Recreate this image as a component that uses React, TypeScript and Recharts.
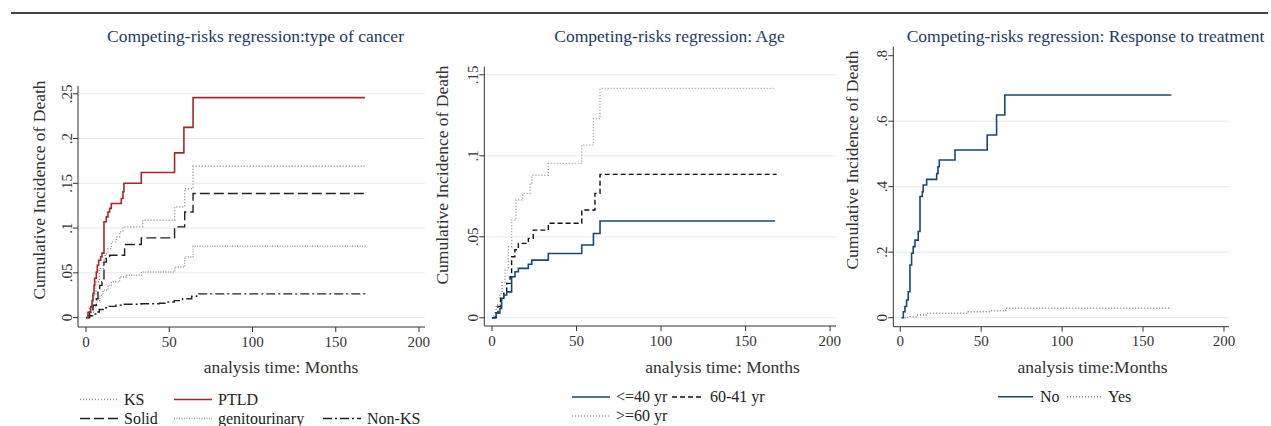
import React from "react";
import {
  LineChart,
  Line,
  XAxis,
  YAxis,
  CartesianGrid,
} from "recharts";

// panel 1: type of cancer
const ksTime = [0, 2, 4, 6, 8, 10.4, 11.6, 13.2, 15.2, 18.2, 20.2, 22.2, 34, 53.3, 59.3, 64.3, 168];
const ksCif = [0, 0.01, 0.025, 0.04, 0.055, 0.064, 0.0716, 0.077, 0.0846, 0.09, 0.0958, 0.1013, 0.1088, 0.1237, 0.144, 0.169, 0.169];
const ptldTime = [0, 1.2, 2.8, 3.6, 4.2, 4.8, 5.2, 6.2, 6.8, 7.6, 8.8, 9.6, 10.8, 12.2, 13.2, 14.2, 15.2, 21.2, 22.2, 22.8, 33.2, 53.2, 58.8, 64.3, 167.5];
const ptldCif = [0, 0.006, 0.012, 0.019, 0.027, 0.036, 0.044, 0.051, 0.0585, 0.064, 0.068, 0.072, 0.107, 0.1125, 0.118, 0.122, 0.1275, 0.133, 0.1405, 0.15, 0.162, 0.184, 0.2125, 0.2457, 0.2457];
const solidTime = [0, 2.2, 4.2, 6.2, 7.2, 8.2, 9.6, 10.8, 12.2, 14.2, 23.2, 33.2, 53.2, 59.3, 64.3, 168];
const solidCif = [0, 0.006, 0.0138, 0.021, 0.0324, 0.036, 0.04, 0.062, 0.066, 0.0697, 0.0817, 0.089, 0.1013, 0.118, 0.1387, 0.1387];
const gentTime = [0, 2, 4.4, 6.5, 8.4, 10.2, 13.2, 15.2, 20.2, 24.2, 33.3, 53.3, 59.3, 64.3, 168];
const gentCif = [0, 0.006, 0.012, 0.019, 0.025, 0.0305, 0.036, 0.04, 0.0454, 0.0473, 0.051, 0.0566, 0.0678, 0.0797, 0.0797];
const nonKsTime = [0, 2, 4, 6.4, 8, 10.4, 14, 18, 22.4, 33, 44, 48.5, 53, 58, 63.5, 66.5, 168];
const nonKsCif = [0, 0.002, 0.004, 0.0063, 0.009, 0.011, 0.0125, 0.0138, 0.0149, 0.0155, 0.016, 0.0175, 0.019, 0.021, 0.0238, 0.0265, 0.0265];

// panel 2: age
const age40Time = [0, 2.5, 4.7, 5.7, 7, 8.7, 11.6, 13.6, 15.6, 21.5, 23.5, 33.3, 53.1, 60, 63.9, 167.5];
const age40Cif = [0, 0.003, 0.0058, 0.012, 0.014, 0.016, 0.0253, 0.0284, 0.0305, 0.033, 0.0356, 0.0397, 0.0449, 0.052, 0.0597, 0.0597];
const age4160Time = [0, 2, 3.5, 5.1, 7, 8.7, 10.7, 11.6, 13.5, 15.6, 21.5, 24.4, 33.3, 53.1, 60.9, 63.9, 168.4];
const age4160Cif = [0, 0.003, 0.007, 0.012, 0.016, 0.0212, 0.0253, 0.0377, 0.042, 0.0459, 0.049, 0.0541, 0.0583, 0.0665, 0.0768, 0.0885, 0.0885];
const age60Time = [0, 0.8, 2.5, 4.7, 6, 7.7, 9.7, 11.6, 14.2, 18.2, 22.5, 23.5, 33.3, 53.1, 60, 63.9, 166.5];
const age60Cif = [0, 0.001, 0.008, 0.015, 0.022, 0.0294, 0.0438, 0.0603, 0.0727, 0.0768, 0.083, 0.088, 0.0953, 0.1066, 0.123, 0.1416, 0.1416];

// panel 3: response to treatment
const noTime = [0.85, 1.9, 2.9, 3.9, 4.9, 6, 7, 8, 9.1, 11.1, 12.2, 13.6, 14.2, 16.3, 22.5, 23.3, 24.1, 33.8, 53.7, 59.5, 64.6, 167.5];
const noCif = [0, 0.018, 0.034, 0.054, 0.079, 0.161, 0.197, 0.217, 0.237, 0.263, 0.37, 0.385, 0.405, 0.4225, 0.44, 0.461, 0.4815, 0.512, 0.558, 0.619, 0.68, 0.68];
const yesTime = [0.85, 4, 6, 10, 16, 42, 55, 65.2, 167.5];
const yesCif = [0, 0.001, 0.003, 0.008, 0.0135, 0.018, 0.021, 0.0287, 0.0287];

const xTicks = [0, 50, 100, 150, 200];
const cancerTicks = [0, 0.05, 0.1, 0.15, 0.2, 0.25];
const ageTicks = [0, 0.05, 0.1, 0.15];
const responseTicks = [0, 0.2, 0.4, 0.6, 0.8];

const FONT = "'Liberation Serif', serif";
const NAVY = "#1a476f";
const RED = "#a3282e";
const GRID = "#e2ecf0";
const AXIS = "#333";

const toPoints = (t: number[], v: number[]) => t.map((x, i) => ({ t: x, v: v[i] }));

const fmt = (v: number) => (v === 0 ? "0" : String(v).replace(/^0\./, "."));

const YTick = (props: any) => {
  const { x, y, payload } = props;
  const cx = x - 4;
  return (
    <text
      x={cx}
      y={y}
      transform={`rotate(-90 ${cx} ${y})`}
      textAnchor="middle"
      dominantBaseline="central"
      fontSize={15}
      fill="#333"
      fontFamily={FONT}
    >
      {fmt(payload.value)}
    </text>
  );
};

type Series = { t: number[]; v: number[]; color: string; dash?: string; width?: number };

function Panel(props: {
  left: number;
  width: number;
  top: number;
  bottom: number;
  yAxisWidth: number;
  right: number;
  xDomain: [number, number];
  yDomain: [number, number];
  yTicks: number[];
  gridValues: number[];
  series: Series[];
}) {
  const height = 360;
  return (
    <div style={{ position: "absolute", left: props.left, top: 0 }}>
      <LineChart
        width={props.width}
        height={height}
        margin={{ top: props.top, right: props.right, bottom: height - 30 - props.bottom, left: 0 }}
      >
        <CartesianGrid vertical={false} stroke={GRID} horizontalValues={props.gridValues} />
        <XAxis
          dataKey="t"
          type="number"
          domain={props.xDomain}
          ticks={xTicks}
          allowDataOverflow
          height={30}
          tickSize={5}
          tickMargin={4}
          stroke={AXIS}
          tick={{ fontSize: 15, fill: "#333", fontFamily: FONT }}
        />
        <YAxis
          type="number"
          domain={props.yDomain}
          ticks={props.yTicks}
          allowDataOverflow
          width={props.yAxisWidth}
          tickSize={5}
          stroke={AXIS}
          tick={<YTick />}
        />
        {props.series.map((s, i) => (
          <Line
            key={i}
            data={toPoints(s.t, s.v)}
            dataKey="v"
            type="stepAfter"
            stroke={s.color}
            strokeWidth={s.width ?? 1.4}
            strokeDasharray={s.dash}
            dot={false}
            activeDot={false}
            isAnimationActive={false}
          />
        ))}
      </LineChart>
    </div>
  );
}

const Seg = (p: { x1: number; x2: number; y: number; color: string; dash?: string }) => (
  <line x1={p.x1} x2={p.x2} y1={p.y} y2={p.y} stroke={p.color} strokeWidth={1.4} strokeDasharray={p.dash} />
);

const T = (p: { x: number; y: number; children: React.ReactNode; size?: number; anchor?: string; color?: string }) => (
  <text x={p.x} y={p.y} fontSize={p.size ?? 16} textAnchor={(p.anchor as any) ?? "start"} fill={p.color ?? "#222"} fontFamily={FONT}>
    {p.children}
  </text>
);

const VT = (p: { x: number; y: number; children: React.ReactNode }) => (
  <text
    x={p.x}
    y={p.y}
    transform={`rotate(-90 ${p.x} ${p.y})`}
    fontSize={17.5}
    textAnchor="middle"
    fill="#333"
    fontFamily={FONT}
  >
    {p.children}
  </text>
);

export default function App() {
  return (
    <div
      style={{
        position: "absolute",
        left: 0,
        top: 0,
        width: 1271,
        height: 426,
        background: "#fff",
        overflow: "hidden",
        fontFamily: FONT,
      }}
    >
      <Panel
        left={0}
        width={430}
        top={86}
        bottom={327}
        yAxisWidth={78}
        right={5}
        xDomain={[-4.8, 203.6]}
        yDomain={[-0.0105, 0.2587]}
        yTicks={cancerTicks}
        gridValues={cancerTicks}
        series={[
          { t: ksTime, v: ksCif, color: "#8a8a8a", dash: "1 2" },
          { t: gentTime, v: gentCif, color: "#9a9a9a", dash: "1 1.5" },
          { t: nonKsTime, v: nonKsCif, color: "#222", dash: "9 3 2 3" },
          { t: solidTime, v: solidCif, color: "#222", dash: "10 4" },
          { t: ptldTime, v: ptldCif, color: RED, width: 1.6 },
        ]}
      />
      <Panel
        left={430}
        width={411}
        top={66.7}
        bottom={326}
        yAxisWidth={54.3}
        right={5}
        xDomain={[-4.56, 203.5]}
        yDomain={[-0.0051, 0.155]}
        yTicks={ageTicks}
        gridValues={ageTicks}
        series={[
          { t: age60Time, v: age60Cif, color: "#999", dash: "1 2" },
          { t: age4160Time, v: age4160Cif, color: "#111", dash: "5 3" },
          { t: age40Time, v: age40Cif, color: NAVY, width: 1.6 },
        ]}
      />
      <Panel
        left={840}
        width={399}
        top={46.7}
        bottom={326.7}
        yAxisWidth={53.3}
        right={10}
        xDomain={[-4.3, 203.1]}
        yDomain={[-0.0275, 0.8275]}
        yTicks={responseTicks}
        gridValues={[0, 0.2, 0.4, 0.6]}
        series={[
          { t: yesTime, v: yesCif, color: "#888", dash: "1 2" },
          { t: noTime, v: noCif, color: NAVY, width: 1.6 },
        ]}
      />

      <svg
        width={1271}
        height={426}
        style={{ position: "absolute", left: 0, top: 0, pointerEvents: "none" }}
      >
        <line x1={11} x2={1268} y1={13} y2={13} stroke="#444" strokeWidth={2} />

        <T x={255.5} y={41.5} size={17.5} anchor="middle" color="#1f3a60">
          Competing-risks regression:type of cancer
        </T>
        <T x={669.5} y={41.5} size={17.5} anchor="middle" color="#1f3a60">
          Competing-risks regression: Age
        </T>
        <T x={1085.5} y={41.5} size={17.5} anchor="middle" color="#1f3a60">
          Competing-risks regression: Response to treatment
        </T>

        <VT x={45} y={190}>Cumulative Incidence of Death</VT>
        <VT x={448.3} y={175}>Cumulative Incidence of Death</VT>
        <VT x={858} y={160}>Cumulative Incidence of Death</VT>

        <T x={281} y={373} size={17.5} anchor="middle" color="#333">analysis time: Months</T>
        <T x={722.5} y={373} size={17.5} anchor="middle" color="#333">analysis time: Months</T>
        <T x={1092.5} y={373} size={17.5} anchor="middle" color="#333">analysis time:Months</T>

        {/* legend panel 1 */}
        <Seg x1={80} x2={118} y={399.5} color="#8a8a8a" dash="1 2" />
        <T x={124} y={404.5}>KS</T>
        <Seg x1={174} x2={212} y={399.5} color={RED} />
        <T x={218} y={404.5}>PTLD</T>
        <Seg x1={80} x2={118} y={418.5} color="#222" dash="10 4" />
        <T x={124} y={424}>Solid</T>
        <Seg x1={174} x2={212} y={418.5} color="#9a9a9a" dash="1 1.5" />
        <T x={218} y={424}>genitourinary</T>
        <Seg x1={323} x2={361} y={418.5} color="#222" dash="9 3 2 3" />
        <T x={367} y={424}>Non-KS</T>

        {/* legend panel 2 */}
        <Seg x1={572} x2={610} y={397} color={NAVY} />
        <T x={616} y={401.7}>&lt;=40 yr</T>
        <Seg x1={672} x2={703} y={397} color="#111" dash="5 3" />
        <T x={710} y={401.7}>60-41 yr</T>
        <Seg x1={572} x2={610} y={416} color="#999" dash="1 2" />
        <T x={616} y={420.7}>&gt;=60 yr</T>

        {/* legend panel 3 */}
        <Seg x1={998} x2={1033} y={396.7} color={NAVY} />
        <T x={1040} y={402}>No</T>
        <Seg x1={1067} x2={1103} y={396.7} color="#888" dash="1 2" />
        <T x={1108} y={402}>Yes</T>
      </svg>
    </div>
  );
}
